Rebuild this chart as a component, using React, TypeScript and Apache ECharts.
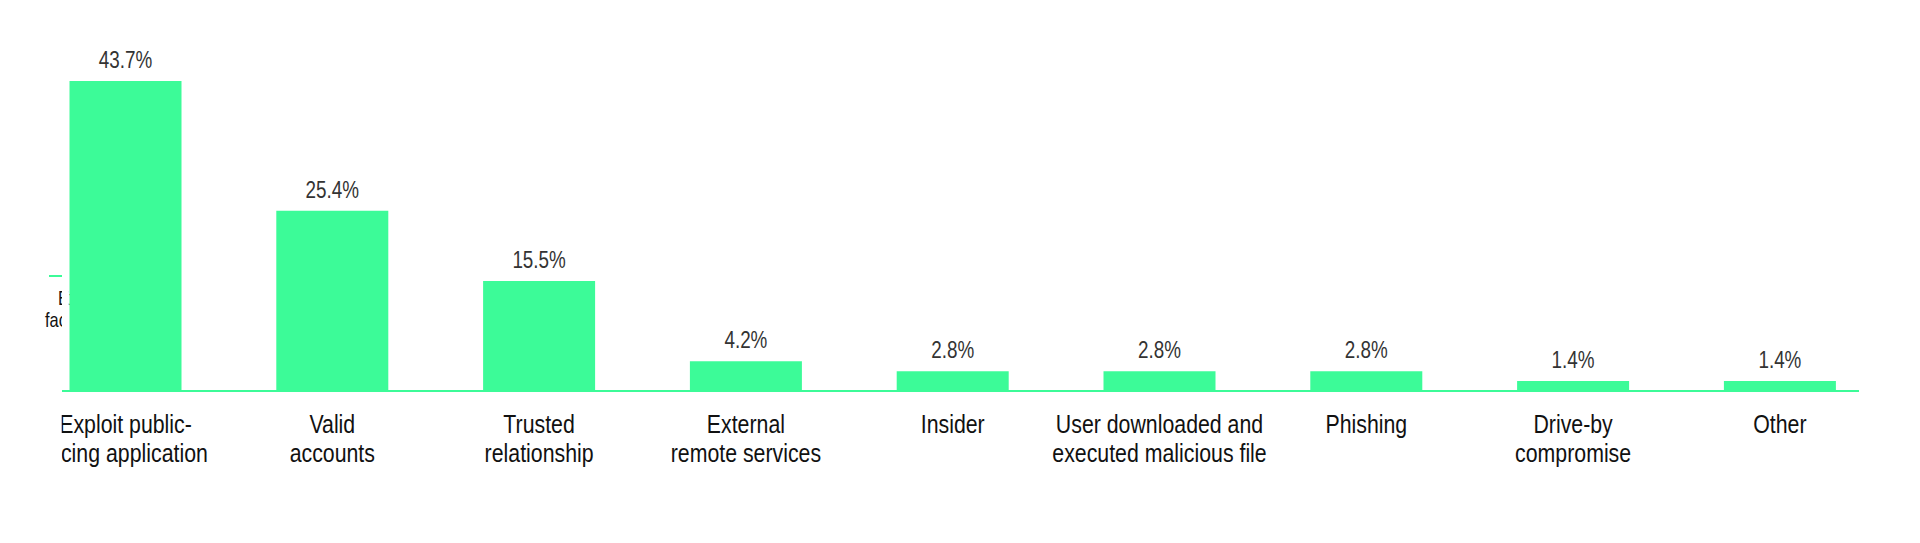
import React, { useEffect, useRef } from "react";
import * as echarts from "echarts";

const categories = [
  "Exploit public-\nfacing application",
  "Valid\naccounts",
  "Trusted\nrelationship",
  "External\nremote services",
  "Insider",
  "User downloaded and\nexecuted malicious file",
  "Phishing",
  "Drive-by\ncompromise",
  "Other",
];
const values = [43.7, 25.4, 15.5, 4.2, 2.8, 2.8, 2.8, 1.4, 1.4];

const GREEN = "#3cfb98";
const FONT = "'Liberation Sans', Arial, sans-serif";

// The reference artwork is horizontally condensed; draw wider and squeeze.
const SX = 0.82;
const W = Math.round(1920 / SX);
const px = (v: number) => v / SX;

export default function App() {
  const ref = useRef<HTMLDivElement>(null);
  useEffect(() => {
    if (!ref.current) return;
    const chart = echarts.init(ref.current, null, { renderer: "svg" });
    const gridLeft = px(22.1);
    const gridWidth = px(9 * 206.8);
    chart.setOption({
      animation: false,
      backgroundColor: "#ffffff",
      grid: {
        left: gridLeft,
        right: W - gridLeft - gridWidth,
        top: 36.3,
        bottom: 152,
        containLabel: false,
      },
      xAxis: {
        type: "category",
        data: categories,
        axisLine: { show: false },
        axisTick: { show: false },
        axisLabel: {
          interval: 0,
          fontFamily: FONT,
          fontSize: 26,
          lineHeight: 29,
          color: "#111111",
          margin: 18,
        },
      },
      yAxis: {
        type: "value",
        min: 0,
        max: 50,
        show: false,
        splitLine: { show: false },
      },
      series: [
        {
          type: "bar",
          data: values,
          barWidth: px(112),
          itemStyle: { color: GREEN },
          z: 2,
          label: {
            show: true,
            position: "top",
            distance: 10,
            fontFamily: FONT,
            fontSize: 23,
            color: "#333333",
            formatter: (p: any) => `${Number(p.value).toFixed(1)}%`,
          },
        },
      ],
      graphic: [
        {
          type: "line",
          z: 50,
          shape: { x1: px(62), y1: 391, x2: px(1859), y2: 391 },
          style: { stroke: GREEN, lineWidth: 2 },
        },
        {
          type: "line",
          z: 50,
          shape: { x1: px(49), y1: 276, x2: px(62), y2: 276 },
          style: { stroke: GREEN, lineWidth: 2 },
        },
        {
          type: "text",
          z: 1,
          x: px(58),
          y: 288,
          style: { text: "Ex", fontFamily: FONT, fontSize: 20, fill: "#111111" },
        },
        {
          type: "text",
          z: 1,
          x: px(45),
          y: 310,
          style: { text: "fac", fontFamily: FONT, fontSize: 20, fill: "#111111" },
        },
        {
          type: "rect",
          z: 45,
          shape: { x: px(62), y: 282, width: px(6.5), height: 55 },
          style: { fill: "#ffffff" },
        },
        {
          type: "rect",
          z: 100,
          shape: { x: 0, y: 396, width: px(61.7), height: 90 },
          style: { fill: "#ffffff" },
        },
      ],
    });
    return () => chart.dispose();
  }, []);
  return (
    <div
      style={{
        position: "absolute",
        left: 0,
        top: 0,
        width: 1920,
        height: 543,
        overflow: "hidden",
        background: "#ffffff",
      }}
    >
      <div
        ref={ref}
        style={{
          width: W,
          height: 543,
          transform: `scaleX(${SX})`,
          transformOrigin: "0 0",
        }}
      />
    </div>
  );
}
